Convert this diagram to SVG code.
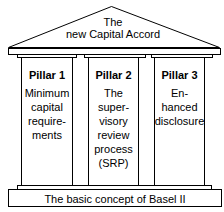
<svg xmlns="http://www.w3.org/2000/svg" width="224" height="212" viewBox="0 0 224 212">
<style>
.s{fill:#fff;stroke:#000;stroke-width:1}
.t{font-family:"Liberation Sans",Arial,sans-serif;font-size:11px;fill:#000;text-anchor:middle}
.b{font-weight:bold}
</style>
<rect width="224" height="212" fill="#fff"/>
<g id="roof">
<polygon class="s" points="8.5,47.5 111.5,6.5 219.5,47.5"/>
<text class="t" x="113" y="26">The</text>
<text class="t" x="113" y="38">new Capital Accord</text>
</g>
<g id="entablature">
<rect class="s" x="8.5" y="48.5" width="212" height="6"/>
</g>
<g id="pillar1">
<rect class="s" x="17.5" y="54.5" width="59" height="3"/>
<rect class="s" x="21.5" y="57.5" width="51" height="128"/>
<text class="t b" x="47" y="79">Pillar 1</text>
<text class="t" x="47" y="97">Minimum</text>
<text class="t" x="47" y="111">capital</text>
<text class="t" x="47" y="125">require-</text>
<text class="t" x="47" y="139">ments</text>
</g>
<g id="pillar2">
<rect class="s" x="84.5" y="54.5" width="61" height="3"/>
<rect class="s" x="88.5" y="57.5" width="50" height="128"/>
<text class="t b" x="113.5" y="79">Pillar 2</text>
<text class="t" x="113.5" y="97">The</text>
<text class="t" x="113.5" y="111">super-</text>
<text class="t" x="113.5" y="125">visory</text>
<text class="t" x="113.5" y="139">review</text>
<text class="t" x="113.5" y="153">process</text>
<text class="t" x="113.5" y="167">(SRP)</text>
</g>
<g id="pillar3">
<rect class="s" x="151.5" y="54.5" width="61" height="3"/>
<rect class="s" x="154.5" y="57.5" width="50" height="128"/>
<text class="t b" x="179.5" y="79">Pillar 3</text>
<text class="t" x="179.5" y="97">En-</text>
<text class="t" x="179.5" y="111">hanced</text>
<text class="t" x="179.5" y="125">disclosure</text>
</g>
<g id="base">
<rect class="s" x="17.5" y="185.5" width="194" height="4"/>
<rect class="s" x="8.5" y="189.5" width="213" height="17"/>
<text class="t" x="115" y="203">The basic concept of Basel II</text>
</g>
</svg>
